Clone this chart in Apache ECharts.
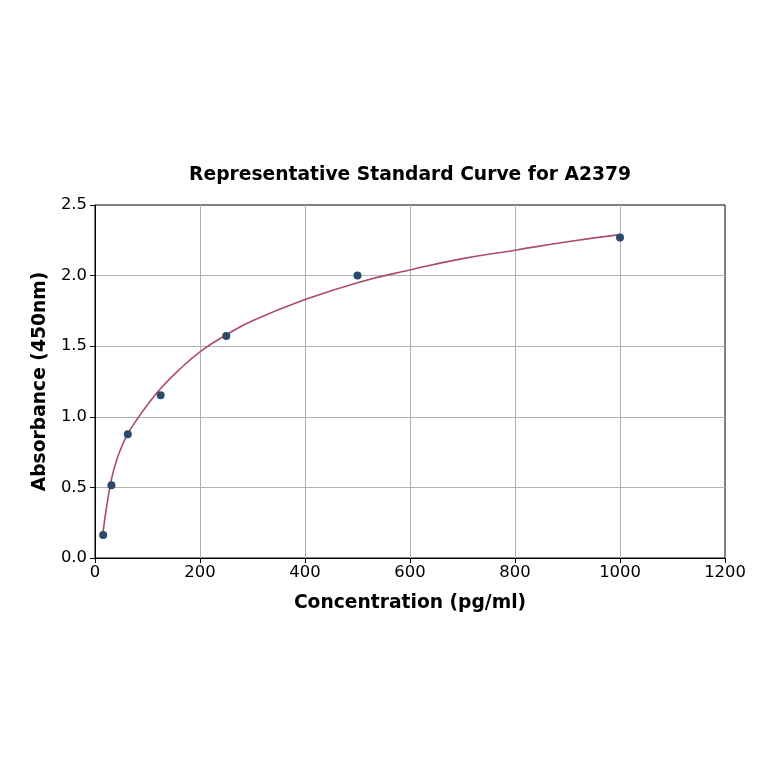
<!DOCTYPE html>
<html>
<head>
<meta charset="utf-8">
<script src="https://cdn.jsdelivr.net/npm/echarts@6/dist/echarts.min.js"></script>
<style>html,body{margin:0;padding:0;background:#fff;}#c{width:764px;height:764px;}</style>
</head>
<body>
<div id="c"></div>
<script>
var pointX = [15.6, 31.25, 62.5, 125, 250, 500, 1000];
var pointY = [0.163, 0.515, 0.877, 1.152, 1.573, 2.0, 2.27];
var curveX = [15.6, 20, 25, 31.25, 40, 50, 62.5, 82.5, 100, 125, 158, 200, 250, 300, 400, 500, 600, 700, 800, 900, 1000];
var curveY = [0.19, 0.31, 0.43, 0.555, 0.68, 0.78, 0.88, 0.995, 1.085, 1.20, 1.325, 1.46, 1.58, 1.68, 1.83, 1.95, 2.04, 2.12, 2.18, 2.24, 2.29];
var xTicks = [0, 200, 400, 600, 800, 1000, 1200];
var yTicks = [0.0, 0.5, 1.0, 1.5, 2.0, 2.5];

var font = 'DejaVu Sans';
var chart = echarts.init(document.getElementById('c'));
chart.setOption({
  animation: false,
  title: {
    text: 'Representative Standard Curve for A2379',
    left: 405, top: 161, textAlign: 'center',
    textStyle: {fontFamily: font, fontSize: 18.7, fontWeight: 'bold', color: '#000'}
  },
  grid: {left: 95, right: 39, top: 205, bottom: 206, show: true, borderColor: '#000', borderWidth: 1, backgroundColor: 'transparent'},
  xAxis: {
    type: 'value', min: xTicks[0], max: xTicks[xTicks.length - 1], interval: 200,
    name: 'Concentration (pg/ml)', nameLocation: 'middle', nameGap: 36,
    nameTextStyle: {fontFamily: font, fontSize: 18.7, fontWeight: 'bold', color: '#000'},
    axisLine: {show: true, lineStyle: {color: '#000', width: 1}},
    axisTick: {show: true, length: 5, lineStyle: {color: '#000'}},
    axisLabel: {fontFamily: font, fontSize: 16.4, color: '#000', margin: 7,
      formatter: function (v) { return String(v); }},
    splitLine: {show: true, showMinLine: false, showMaxLine: false, lineStyle: {color: '#b0b0b0', width: 1}}
  },
  yAxis: {
    type: 'value', min: yTicks[0], max: yTicks[yTicks.length - 1], interval: 0.5,
    name: 'Absorbance (450nm)', nameLocation: 'middle', nameGap: 45,
    nameTextStyle: {fontFamily: font, fontSize: 18.7, fontWeight: 'bold', color: '#000'},
    axisLine: {show: true, lineStyle: {color: '#000', width: 1}},
    axisTick: {show: true, length: 5, lineStyle: {color: '#000'}},
    axisLabel: {fontFamily: font, fontSize: 16.4, color: '#000', margin: 8,
      formatter: function (v) { return v.toFixed(1); }},
    splitLine: {show: true, showMinLine: false, showMaxLine: false, lineStyle: {color: '#b0b0b0', width: 1}}
  },
  series: [
    {
      type: 'line', smooth: true, symbol: 'none',
      data: curveX.map(function (x, i) { return [x, curveY[i]]; }),
      lineStyle: {color: '#ad4a6f', width: 1.6}, z: 2
    },
    {
      type: 'scatter', symbolSize: 8,
      data: pointX.map(function (x, i) { return [x, pointY[i]]; }),
      itemStyle: {color: '#2b4a6e', opacity: 1}, z: 3
    }
  ]
});
</script>
</body>
</html>
